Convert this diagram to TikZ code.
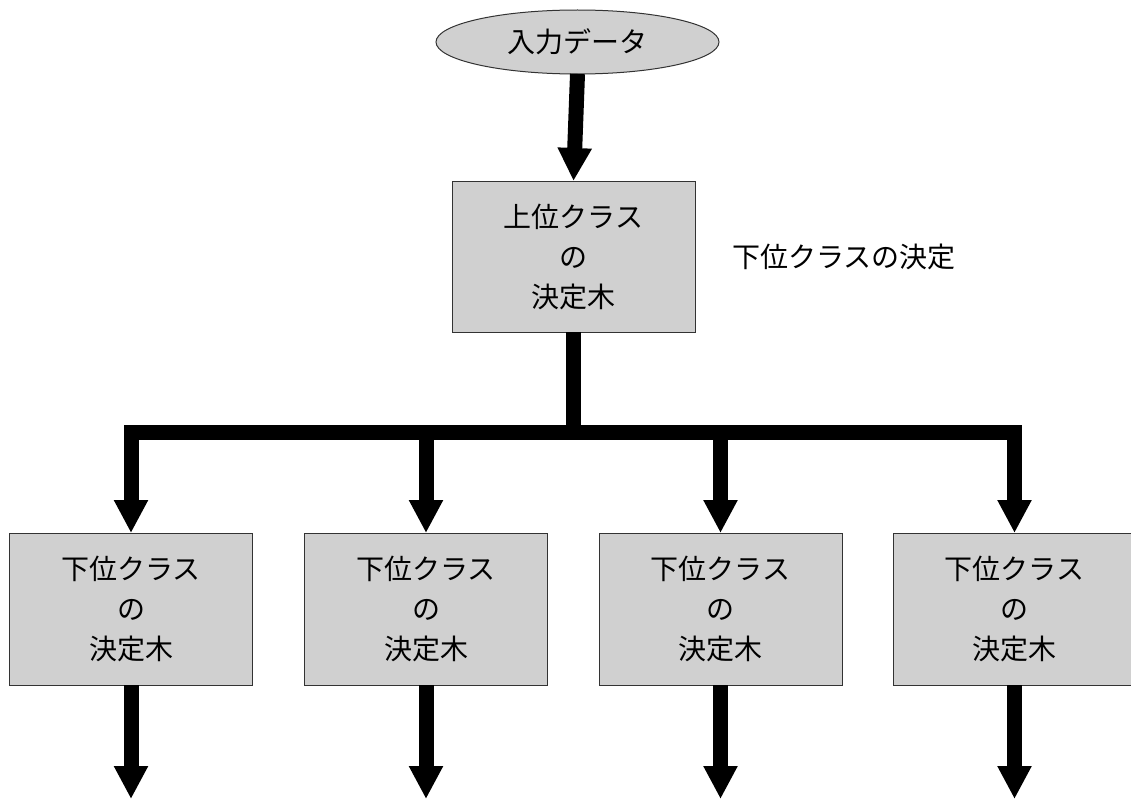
\documentclass[tikz,border=0pt]{standalone}
\usepackage{fontspec}
\setmainfont{Noto Sans CJK JP}
\usetikzlibrary{shapes.geometric,arrows.meta}
\definecolor{boxgray}{RGB}{208,208,208}
\begin{document}
\begin{tikzpicture}[x=1pt,y=-1pt,
  every node/.style={outer sep=0pt, inner sep=0pt, font=\fontsize{28}{40}\selectfont},
  treebox/.style={rectangle, draw=black!80, line width=1pt, fill=boxgray, minimum width=243pt, minimum height=152pt, align=center},
  pipe/.style={line width=15pt, line join=miter},
  flow/.style={pipe, -{Triangle[width=32pt,length=33pt]}}]
\useasboundingbox (0,0) rectangle (1131,800);

\node[ellipse, draw=black!80, line width=1pt, fill=boxgray, minimum width=283pt, minimum height=64pt] (input) at (577.5,42) {入力データ};
\node[treebox, minimum height=151pt] (upper) at (573.5,256.5) {上位クラス\\の\\決定木};
\node[anchor=west] (note) at (732,257) {下位クラスの決定};

\node[treebox] (sub1) at (131,609) {下位クラス\\の\\決定木};
\node[treebox] (sub2) at (426,609) {下位クラス\\の\\決定木};
\node[treebox] (sub3) at (720.5,609) {下位クラス\\の\\決定木};
\node[treebox] (sub4) at (1014.5,609) {下位クラス\\の\\決定木};

\coordinate (bar) at (upper.south |- 0,432.5);
\draw[flow] (input.south) -- (upper.north);
\draw[pipe] (upper.south) -- (bar);
\foreach \n in {sub1,sub2,sub3,sub4}{
  \draw[flow] (bar) -| (\n.north);
  \coordinate (\n-out) at (\n.south |- 0,799);
  \draw[flow] (\n.south) -- (\n-out);
}
\end{tikzpicture}
\end{document}
